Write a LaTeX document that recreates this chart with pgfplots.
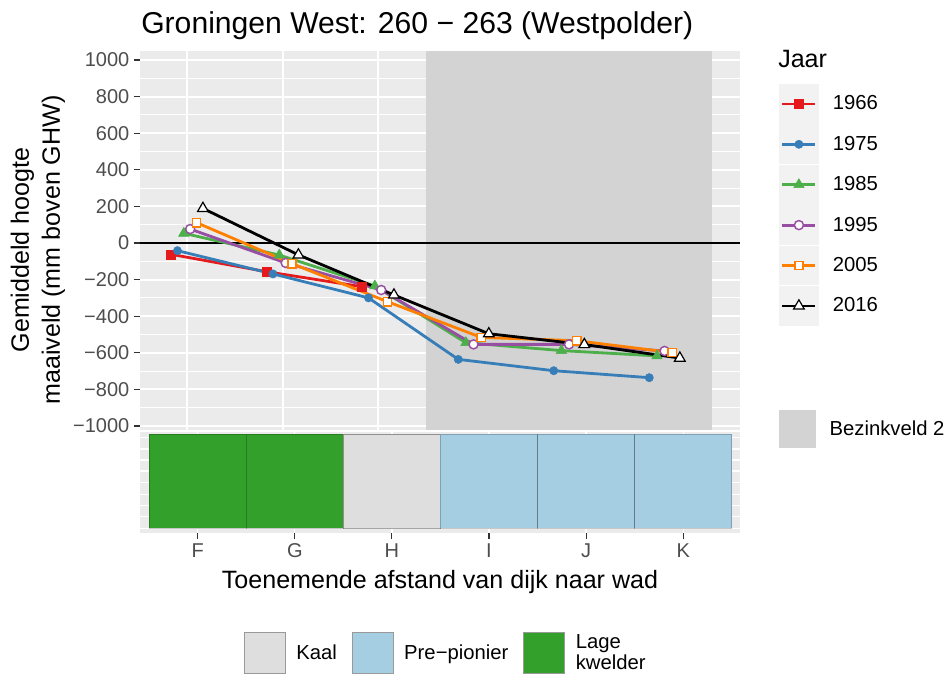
\documentclass[border=0pt]{standalone}
\usepackage{fontspec}
\setmainfont{Liberation Sans}
\usepackage{pgfplots}
\pgfplotsset{compat=1.18}
\definecolor{c1966}{HTML}{E41A1C}
\definecolor{c1975}{HTML}{377EB8}
\definecolor{c1985}{HTML}{4DAF4A}
\definecolor{c1995}{HTML}{984EA3}
\definecolor{c2005}{HTML}{FF7F00}
\definecolor{c2016}{HTML}{000000}
\definecolor{panelbg}{HTML}{EBEBEB}
\definecolor{bezink}{HTML}{D3D3D3}
\definecolor{legkey}{HTML}{F2F2F2}
\definecolor{tickgray}{HTML}{4D4D4D}
\definecolor{tickmark}{HTML}{333333}
\definecolor{kaal}{HTML}{DEDEDE}
\definecolor{prepion}{HTML}{A6CEE3}
\definecolor{lage}{HTML}{33A02C}
\pgfplotsset{
  s1966/.style={color=c1966, mark=square*, mark size=3.4pt, mark options={solid, line width=0.4pt}},
  s1975/.style={color=c1975, mark=*, mark size=3.1pt, mark options={solid, line width=0.4pt}},
  s1985/.style={color=c1985, mark=triangle*, mark size=4.5pt, mark options={solid, line width=0.4pt}},
  s1995/.style={color=c1995, mark=*, mark size=3.4pt, mark options={solid, fill=white, line width=1.1pt}},
  s2005/.style={color=c2005, mark=square*, mark size=3.1pt, mark options={solid, fill=white, line width=1.1pt}},
  s2016/.style={color=c2016, mark=triangle*, mark size=4.6pt, mark options={solid, fill=white, line width=0.9pt}},
}
\begin{document}
\begin{tikzpicture}
\useasboundingbox (0,0) rectangle (712.5pt,-506.25pt);

% title
\node[anchor=base west, inner sep=0pt, font=\fontsize{22.6}{26}\selectfont] at (105.75pt,-24.75pt) {Groningen West: 260 − 263 (Westpolder)};
% legend title
\node[anchor=base west, inner sep=0pt, font=\fontsize{18.8}{22}\selectfont] at (583.5pt,-50.25pt) {Jaar};

% ---------------- top panel ----------------
\begin{axis}[
  at={(105pt,-322.5pt)}, anchor=south west,
  width=450pt, height=284.25pt, scale only axis,
  xmin=0.508, xmax=6.79, ymin=-1022, ymax=1049,
  axis background/.style={fill=panelbg},
  axis line style={draw=none},
  xtick={1,2,3,4,5,6}, xticklabels={}, xmajorticks=false,
  ytick={-1000,-800,-600,-400,-200,0,200,400,600,800,1000},
  yticklabels={−1000,−800,−600,−400,−200,0,200,400,600,800,1000},
  minor ytick={-900,-700,-500,-300,-100,100,300,500,700,900},
  ytick pos=left,
  xmajorgrids, ymajorgrids, yminorgrids,
  major grid style={white, line width=1.5pt},
  minor grid style={white, line width=0.75pt},
  tick align=outside, major tick length=4.5pt, minor tick length=0pt,
  ytick style={color=tickmark, line width=0.8pt},
  yticklabel style={font=\fontsize{15}{18}\selectfont, color=tickgray},
  ylabel={Gemiddeld hoogte\\maaiveld (mm boven GHW)},
  ylabel style={font=\fontsize{18.8}{23.25}\selectfont, align=center, at={(axis description cs:-0.17,0.475)}, anchor=center},
  legend image code/.code={
    \fill[legkey] (0pt,-13.875pt) rectangle (27.75pt,13.875pt);
    \draw[#1] (1.5pt,0pt) -- (26.25pt,0pt);
    \draw[#1] plot coordinates {(13.875pt,0pt)};
  },
  legend cell align=left,
  legend style={at={(axis description cs:1.065,0.91293)}, anchor=north west, draw=none, fill=none,
    inner sep=0pt, outer sep=0pt, row sep=0.45pt, font=\fontsize{15.2}{18}\selectfont,
    nodes={inner sep=0pt}, /tikz/every odd column/.style={column sep=10.5pt}},
]
\addplot[fill=bezink, draw=none, forget plot] coordinates {(3.5,-1022) (6.5,-1022) (6.5,1049) (3.5,1049)} -- cycle;
\addplot[black, line width=2pt, forget plot] coordinates {(0.508,0) (6.79,0)};
% lines
\addplot[c1966, line width=2.1pt, forget plot] coordinates {(0.8333,-62) (1.8333,-157) (2.8333,-239)};
\addplot[c1975, line width=2.1pt, forget plot] coordinates {(0.9,-42) (1.9,-169) (2.9,-300) (3.84,-636) (4.84,-698) (5.84,-736)};
\addplot[c1985, line width=2.1pt, forget plot] coordinates {(0.9667,53) (1.9667,-66) (2.9667,-235) (3.92,-545) (4.92,-588) (5.92,-617)};
\addplot[c1995, line width=2.1pt, forget plot] coordinates {(1.0333,76) (2.0333,-109) (3.0333,-257) (4,-554) (5,-554) (6,-590)};
\addplot[c2005, line width=2.1pt, forget plot] coordinates {(1.1,111) (2.1,-113) (3.1,-321) (4.08,-516) (5.08,-534) (6.08,-599)};
\addplot[c2016, line width=2.1pt, forget plot] coordinates {(1.1667,189) (2.1667,-65) (3.1667,-284) (4.16,-496) (5.16,-555) (6.16,-629)};
% points
\addplot[s1966, only marks, forget plot] coordinates {(0.8333,-62) (1.8333,-157) (2.8333,-239)};
\addplot[s1975, only marks, forget plot] coordinates {(0.9,-42) (1.9,-169) (2.9,-300) (3.84,-636) (4.84,-698) (5.84,-736)};
\addplot[s1985, only marks, forget plot] coordinates {(0.9667,53) (1.9667,-66) (2.9667,-235) (3.92,-545) (4.92,-588) (5.92,-617)};
\addplot[s1995, only marks, forget plot] coordinates {(1.0333,76) (2.0333,-109) (3.0333,-257) (4,-554) (5,-554) (6,-590)};
\addplot[s2005, only marks, forget plot] coordinates {(1.1,111) (2.1,-113) (3.1,-321) (4.08,-516) (5.08,-534) (6.08,-599)};
\addplot[s2016, only marks, forget plot] coordinates {(1.1667,189) (2.1667,-65) (3.1667,-284) (4.16,-496) (5.16,-555) (6.16,-629)};
\addlegendimage{s1966, line width=2.1pt}\addlegendentry{1966}
\addlegendimage{s1975, line width=2.1pt}\addlegendentry{1975}
\addlegendimage{s1985, line width=2.1pt}\addlegendentry{1985}
\addlegendimage{s1995, line width=2.1pt}\addlegendentry{1995}
\addlegendimage{s2005, line width=2.1pt}\addlegendentry{2005}
\addlegendimage{s2016, line width=2.1pt}\addlegendentry{2016}
\end{axis}

% Bezinkveld legend
\begin{axis}[
  at={(105pt,-322.5pt)}, anchor=south west,
  width=450pt, height=284.25pt, scale only axis,
  xmin=0, xmax=1, ymin=0, ymax=1, hide axis,
  legend image code/.code={
    \fill[#1] (0pt,-14.25pt) rectangle (27.75pt,14.25pt);
  },
  legend cell align=left,
  legend style={at={(axis description cs:1.065,0.0528)}, anchor=north west, draw=none, fill=none,
    inner sep=0pt, outer sep=0pt, font=\fontsize{15.2}{18}\selectfont,
    nodes={inner sep=0pt}, /tikz/every odd column/.style={column sep=10.2pt}},
]
\addlegendimage{fill=bezink, draw=none}\addlegendentry{Bezinkveld 2}
\end{axis}

% ---------------- bottom panel ----------------
\begin{axis}[
  at={(105pt,-399.75pt)}, anchor=south west,
  width=450pt, height=75.75pt, scale only axis,
  xmin=0.406, xmax=6.585, ymin=0, ymax=101,
  axis background/.style={fill=panelbg},
  axis line style={draw=none},
  xtick={1,2,3,4,5,6}, xticklabels={F,G,H,I,J,K}, xtick pos=bottom,
  ytick={4.7,16.3,27.3,38.7,50.7,62,73,84,95.3}, yticklabels={}, ymajorticks=false,
  xmajorgrids, ymajorgrids,
  major grid style={white, line width=1pt},
  tick align=outside, major tick length=4.5pt,
  xtick style={color=tickmark, line width=0.8pt},
  xticklabel style={font=\fontsize{15}{18}\selectfont, color=tickgray},
  xlabel={Toenemende afstand van dijk naar wad},
  xlabel style={font=\fontsize{18.8}{22}\selectfont, at={(axis description cs:0.5,0)}, anchor=base, yshift=-41.25pt},
]
\addplot[fill=lage, draw=black, draw opacity=0.22, line width=0.5pt] coordinates {(0.5,5) (1.5,5) (1.5,99) (0.5,99)} -- cycle;
\addplot[fill=lage, draw=black, draw opacity=0.22, line width=0.5pt] coordinates {(1.5,5) (2.5,5) (2.5,99) (1.5,99)} -- cycle;
\addplot[fill=kaal, draw=black, draw opacity=0.35, line width=0.5pt] coordinates {(2.5,5) (3.5,5) (3.5,99) (2.5,99)} -- cycle;
\addplot[fill=prepion, draw=black, draw opacity=0.22, line width=0.5pt] coordinates {(3.5,5) (4.5,5) (4.5,99) (3.5,99)} -- cycle;
\addplot[fill=prepion, draw=black, draw opacity=0.22, line width=0.5pt] coordinates {(4.5,5) (5.5,5) (5.5,99) (4.5,99)} -- cycle;
\addplot[fill=prepion, draw=black, draw opacity=0.22, line width=0.5pt] coordinates {(5.5,5) (6.5,5) (6.5,99) (5.5,99)} -- cycle;
\end{axis}

% bottom legend
\begin{axis}[
  at={(105pt,-399.75pt)}, anchor=south west,
  width=450pt, height=75.75pt, scale only axis,
  xmin=0, xmax=1, ymin=0, ymax=1, hide axis,
  legend columns=3,
  legend image code/.code={
    \draw[#1] (0pt,-15.375pt) rectangle (30.75pt,15.375pt);
  },
  legend cell align=left,
  legend style={at={(axis description cs:0.17333,-0.980)}, anchor=north west, draw=none, fill=none,
    inner sep=0pt, outer sep=0pt, font=\fontsize{15.2}{15.75}\selectfont,
    nodes={inner sep=0pt, align=left},
    /tikz/every odd column/.style={column sep=7.9pt},
    /tikz/every even column/.style={column sep=11.25pt}},
]
\addlegendimage{fill=kaal, draw=black!40, line width=0.6pt}\addlegendentry{Kaal}
\addlegendimage{fill=prepion, draw=black!40, line width=0.6pt}\addlegendentry{Pre−pionier}
\addlegendimage{fill=lage, draw=black!40, line width=0.6pt}\addlegendentry{Lage\\kwelder}
\end{axis}
\end{tikzpicture}
\end{document}
